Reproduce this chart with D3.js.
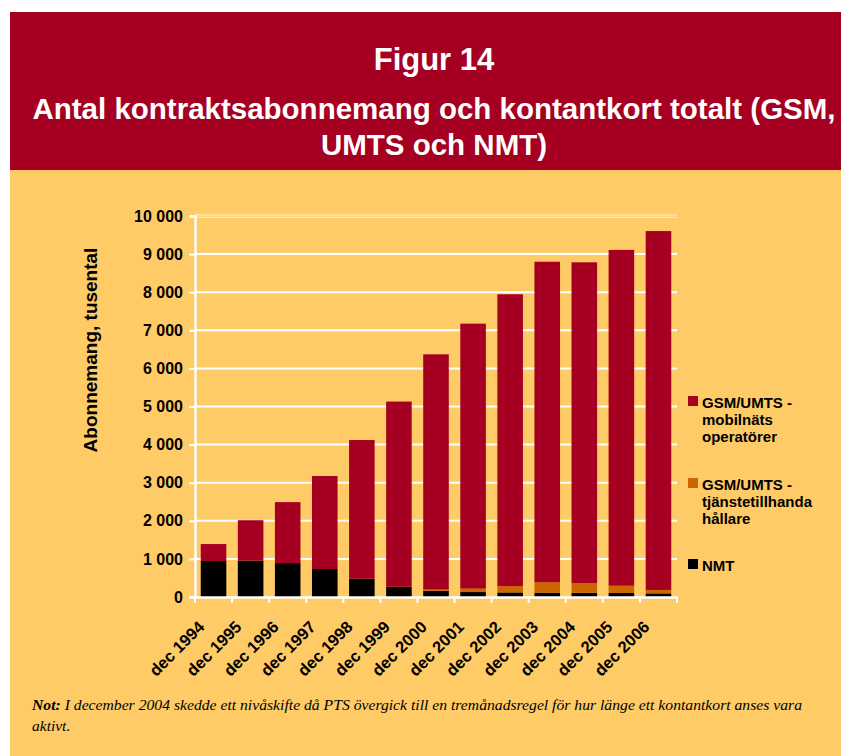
<!DOCTYPE html>
<html>
<head>
<meta charset="utf-8">
<script src="https://cdn.jsdelivr.net/npm/d3@7"></script>
<style>
  body { margin: 0; background: #fff; }
  text { font-family: "Liberation Sans", Arial, sans-serif; }
  text.note { font-family: "Liberation Serif", "Times New Roman", serif; font-style: italic; }
</style>
</head>
<body>
<div id="chart"></div>
<script>
// Data (tusental abonnemang)
const years = ["dec 1994", "dec 1995", "dec 1996", "dec 1997", "dec 1998", "dec 1999", "dec 2000",
  "dec 2001", "dec 2002", "dec 2003", "dec 2004", "dec 2005", "dec 2006"];
const nmt = [945, 955, 890, 735, 480, 270, 165, 130, 120, 115, 110, 105, 95];
const tjanste = [0, 0, 0, 0, 0, 0, 30, 90, 165, 270, 255, 190, 90];
const mobilnat = [445, 1060, 1600, 2440, 3640, 4860, 6175, 6955, 7660, 8415, 8420, 8815, 9420];
const yTicks = [0, 1000, 2000, 3000, 4000, 5000, 6000, 7000, 8000, 9000, 10000];

const seriesKeys = ["nmt", "tjanste", "mobilnat"];
const colors = { nmt: "#000000", tjanste: "#CC6600", mobilnat: "#A50021" };
const legendItems = [
  { key: "mobilnat", lines: ["GSM/UMTS -", "mobilnäts", "operatörer"], y: 396 },
  { key: "tjanste", lines: ["GSM/UMTS -", "tjänstetillhanda", "hållare"], y: 478 },
  { key: "nmt", lines: ["NMT"], y: 559 }
];

const rows = years.map((y, i) => ({ year: y, nmt: nmt[i], tjanste: tjanste[i], mobilnat: mobilnat[i] }));

const width = 841, height = 756;
const svg = d3.select("#chart").append("svg")
  .attr("width", width)
  .attr("height", height);

// Header + panel
svg.append("rect").attr("x", 10).attr("y", 12).attr("width", 831).attr("height", 158).attr("fill", "#A50021");
svg.append("rect").attr("x", 10).attr("y", 170).attr("width", 831).attr("height", 586).attr("fill", "#FFCB66");

svg.append("text")
  .attr("x", 434).attr("y", 70)
  .attr("text-anchor", "middle")
  .attr("fill", "#fff")
  .attr("font-weight", "bold")
  .attr("font-size", 31)
  .text("Figur 14");

svg.append("text")
  .attr("x", 434).attr("y", 119)
  .attr("text-anchor", "middle")
  .attr("fill", "#fff")
  .attr("font-weight", "bold")
  .attr("font-size", 29.5)
  .text("Antal kontraktsabonnemang och kontantkort totalt (GSM,");

svg.append("text")
  .attr("x", 434).attr("y", 155)
  .attr("text-anchor", "middle")
  .attr("fill", "#fff")
  .attr("font-weight", "bold")
  .attr("font-size", 29.5)
  .text("UMTS och NMT)");

// Scales
const x = d3.scaleBand()
  .domain(years)
  .range([195, 677])
  .paddingInner(0.31)
  .paddingOuter(0.155);

const y = d3.scaleLinear()
  .domain([0, 10000])
  .range([597, 216]);

const fmt = d => d3.format(",")(d).replace(/,/g, " ");

// Gridlines
svg.append("g")
  .selectAll("line")
  .data(yTicks.filter(d => d > 0 && d < 10000))
  .join("line")
  .attr("x1", 195).attr("x2", 677)
  .attr("y1", d => y(d)).attr("y2", d => y(d))
  .attr("stroke", "#fff")
  .attr("stroke-width", 2);

// top gridline looks doubled and lighter
[-1, 1.3].forEach(off => {
  svg.append("line")
    .attr("x1", 195).attr("x2", 677)
    .attr("y1", y(10000) + off).attr("y2", y(10000) + off)
    .attr("stroke", "#FFF2CC")
    .attr("stroke-width", 1);
});

// Bars
const stack = d3.stack().keys(seriesKeys);
const stacked = stack(rows);

svg.append("g")
  .selectAll("g")
  .data(stacked)
  .join("g")
  .attr("fill", d => colors[d.key])
  .selectAll("rect")
  .data(d => d)
  .join("rect")
  .attr("x", d => x(d.data.year))
  .attr("y", d => y(d[1]))
  .attr("width", x.bandwidth())
  .attr("height", d => y(d[0]) - y(d[1]));

// Y axis
const yAxis = svg.append("g")
  .attr("transform", "translate(195,0)")
  .call(d3.axisLeft(y).tickValues(yTicks).tickSize(6).tickPadding(6).tickFormat(fmt));
yAxis.select(".domain").attr("stroke", "#fff").attr("stroke-width", 2.5);
yAxis.selectAll(".tick line").attr("stroke", "#fff").attr("stroke-width", 2);
yAxis.selectAll(".tick text")
  .attr("fill", "#000")
  .attr("font-weight", "bold")
  .attr("font-size", 16);

// X axis with ticks on band boundaries
const xAxisG = svg.append("g");
xAxisG.append("line")
  .attr("x1", 193).attr("x2", 678)
  .attr("y1", 597.5).attr("y2", 597.5)
  .attr("stroke", "#fff").attr("stroke-width", 2.5);
const step = x.step();
xAxisG.selectAll(".xt")
  .data(d3.range(years.length + 1))
  .join("line")
  .attr("class", "xt")
  .attr("x1", i => 195 + i * step).attr("x2", i => 195 + i * step)
  .attr("y1", 597).attr("y2", 603)
  .attr("stroke", "#fff").attr("stroke-width", 2);

xAxisG.selectAll(".xl")
  .data(years)
  .join("text")
  .attr("class", "xl")
  .attr("text-anchor", "end")
  .attr("font-weight", "bold")
  .attr("font-size", 16.5)
  .attr("transform", d => `translate(${x(d) + x.bandwidth() / 2 - 8},628) rotate(-45)`)
  .text(d => d);

// Y title
svg.append("text")
  .attr("transform", "translate(97,350) rotate(-90)")
  .attr("text-anchor", "middle")
  .attr("font-weight", "bold")
  .attr("font-size", 19)
  .text("Abonnemang, tusental");

// Legend
const legend = svg.append("g");
legendItems.forEach(item => {
  legend.append("rect")
    .attr("x", 688).attr("y", item.y)
    .attr("width", 10).attr("height", 10)
    .attr("fill", colors[item.key]);
  const t = legend.append("text")
    .attr("x", 702).attr("y", item.y + 11.5)
    .attr("font-weight", "bold")
    .attr("font-size", 15);
  item.lines.forEach((ln, i) => {
    t.append("tspan").attr("x", 702).attr("dy", i === 0 ? 0 : 17).text(ln);
  });
});

// Note
const note = svg.append("text")
  .attr("class", "note")
  .attr("x", 32).attr("y", 710)
  .attr("font-size", 15.5)
  .attr("textLength", 770)
  .attr("lengthAdjust", "spacingAndGlyphs");
note.append("tspan").attr("font-weight", "bold").text("Not: ");
note.append("tspan").text("I december 2004 skedde ett nivåskifte då PTS övergick till en tremånadsregel för hur länge ett kontantkort anses vara");

svg.append("text")
  .attr("class", "note")
  .attr("x", 32).attr("y", 731)
  .attr("font-size", 15.5)
  .text("aktivt.");
</script>
</body>
</html>
